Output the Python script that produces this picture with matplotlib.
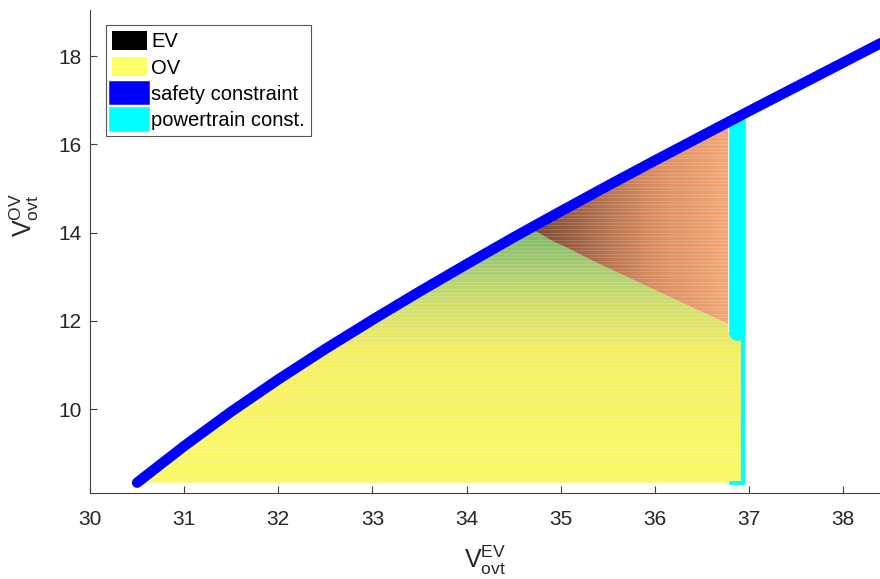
import numpy as np
import matplotlib
matplotlib.use('Agg')
import matplotlib.pyplot as plt
from matplotlib.colors import LinearSegmentedColormap
from matplotlib.patches import Polygon, Patch

plt.rcParams['font.family'] = ['Liberation Sans', 'DejaVu Sans']
plt.rcParams['mathtext.default'] = 'regular'

# safety constraint curve (V_ovt^EV, V_ovt^OV)
safety_x = [30.5, 31.0, 31.5, 32.0, 32.5, 33.0, 33.5, 34.0, 34.5,
            35.0, 35.5, 36.0, 36.5, 37.0, 37.5, 38.0, 38.5]
safety_y = [8.33, 9.16, 9.94, 10.67, 11.36, 12.02, 12.66, 13.28, 13.89,
            14.48, 15.06, 15.63, 16.19, 16.75, 17.3, 17.85, 18.4]

# powertrain constraint
pt_x = 36.87
pt_x_low = 36.94
pt_y_split = 11.74
y_min = 8.33

# boundary between OV-dominated and EV-dominated zone
split_x = [34.68, 34.9, 35.1, 35.3, 35.5, 35.75, 36.0, 36.25, 36.5, 36.78]
split_y = [14.1, 13.82, 13.62, 13.4, 13.2, 12.95, 12.7, 12.45, 12.2, 11.93]

x_ticks = [30, 31, 32, 33, 34, 35, 36, 37, 38]
y_ticks = [10, 12, 14, 16, 18]

fig = plt.figure(figsize=(8.8, 5.79), dpi=100)
ax = fig.add_axes([0.1023, 0.1485, 0.8977, 0.834])

sx = np.array(safety_x)
sy = np.array(safety_y)
x_right = split_x[-1]

# zona inferior (OV)
low_pts = [(x, y) for x, y in zip(sx, sy) if x < split_x[0]]
low_pts += list(zip(split_x, split_y))
low_pts += [(x_right, pt_y_split), (pt_x_low, pt_y_split), (pt_x_low, y_min), (sx[0], y_min)]
low_poly = Polygon(low_pts, closed=True, facecolor='none', edgecolor='none')
ax.add_patch(low_poly)

cmap_ov = LinearSegmentedColormap.from_list('ov', [
    (0.0, '#fbf966'), (0.5, '#f4f064'), (0.68, '#d4e06e'),
    (0.84, '#a6cb73'), (1.0, '#78b462')])
yy = np.linspace(8.3, 14.2, 300)[:, None] * np.ones((1, 2))
im1 = ax.imshow(yy, extent=[30.4, 37.0, 8.3, 14.2], origin='lower', aspect='auto',
                cmap=cmap_ov, vmin=8.3, vmax=14.2, interpolation='bilinear', zorder=1)
im1.set_clip_path(low_poly)

# zona superior (EV)
up_curve_x = [x for x in sx if split_x[0] < x < x_right]
up_pts = list(zip(split_x, split_y))
up_pts += [(x_right, np.interp(x_right, sx, sy) - 0.05)]
up_pts += [(x, np.interp(x, sx, sy) - 0.05) for x in reversed(up_curve_x)]
up_pts += [(split_x[0], np.interp(split_x[0], sx, sy) - 0.05)]
up_poly = Polygon(up_pts, closed=True, facecolor='none', edgecolor='none')
ax.add_patch(up_poly)

cmap_ev = LinearSegmentedColormap.from_list('ev', [
    (0.0, '#6f4630'), (0.3, '#a86a4a'), (0.6, '#d98e62'), (1.0, '#f6ad7a')])
xx = np.linspace(34.6, 36.9, 300)[None, :] * np.ones((2, 1))
im2 = ax.imshow(xx, extent=[34.6, 36.9, 11.5, 17.0], origin='lower', aspect='auto',
                cmap=cmap_ev, vmin=34.6, vmax=36.9, interpolation='bilinear', zorder=1)
im2.set_clip_path(up_poly)

# lineas claras de la malla
grid_y = np.arange(8.4, 16.8, 0.08)
hl1 = ax.hlines(grid_y, 30.4, 37.0, color='white', lw=0.5, alpha=0.22, zorder=1.5)
hl1.set_clip_path(low_poly)
hl2 = ax.hlines(grid_y, 30.4, 37.0, color='white', lw=0.5, alpha=0.22, zorder=1.5)
hl2.set_clip_path(up_poly)

# powertrain const.
ax.plot([pt_x, pt_x], [pt_y_split, np.interp(pt_x, sx, sy) - 0.1], color='cyan',
        lw=12, solid_capstyle='round', zorder=2)
ax.plot([pt_x_low, pt_x_low, x_right + 0.03], [pt_y_split, y_min, y_min], color='cyan',
        lw=3, solid_capstyle='round', solid_joinstyle='round', zorder=2)

# safety constraint
ax.plot(sx, sy, color='blue', lw=7.5, solid_capstyle='round', zorder=3)

ax.set_xlim(30, 38.393)
ax.set_ylim(8.096, 19.04)
ax.set_xticks(x_ticks)
ax.set_yticks(y_ticks)
ax.tick_params(direction='in', length=5, width=0.8, colors='#404040', labelsize=15,
               labelcolor='#262626')
ax.tick_params(axis='x', pad=12)
ax.tick_params(axis='y', pad=6)
ax.spines['top'].set_visible(False)
ax.spines['right'].set_visible(False)
for s in ['left', 'bottom']:
    ax.spines[s].set_color('#404040')
    ax.spines[s].set_linewidth(0.8)

ax.set_xlabel(r'$V^{EV}_{ovt}$', fontsize=18, color='#262626')
ax.set_ylabel(r'$V^{OV}_{ovt}$', fontsize=18, color='#262626')
ax.xaxis.set_label_coords(0.5, -0.105)
ax.yaxis.set_label_coords(-0.062, 0.575)

handles = [
    Patch(facecolor='black', edgecolor='none', label='EV'),
    Patch(facecolor='#ffff66', edgecolor='none', label='OV'),
    Patch(facecolor='blue', edgecolor='blue', lw=4, label='safety constraint'),
    Patch(facecolor='cyan', edgecolor='cyan', lw=4, label='powertrain const.'),
]
leg = ax.legend(handles=handles, loc='upper left', bbox_to_anchor=(0.02, 0.969),
                borderaxespad=0, fontsize=14.5, fancybox=False, framealpha=1,
                edgecolor='#555555', handlelength=1.75, handleheight=1.05,
                handletextpad=0.2, labelspacing=0.3, borderpad=0.3)
leg.get_frame().set_linewidth(0.8)

plt.savefig('out.png', dpi=100)
